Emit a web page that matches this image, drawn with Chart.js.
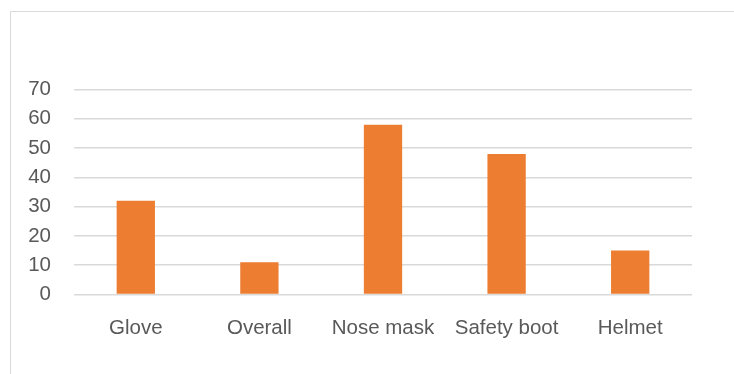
<!DOCTYPE html>
<html>
<head>
<meta charset="utf-8">
<script src="https://cdn.jsdelivr.net/npm/chart.js@4/dist/chart.umd.min.js"></script>
<style>
    html, body { margin: 0; padding: 0; background: #fff; }
    #wrap { width: 734px; height: 374px; position: relative; }
</style>
</head>
<body>
<div id="wrap"><canvas id="ppeChart" width="734" height="374"></canvas></div>
<script>
// Protective equipment counts
const categories = ['Glove', 'Overall', 'Nose mask', 'Safety boot', 'Helmet'];
const usage = [32, 11, 58, 48, 15];
const yTicks = [0, 10, 20, 30, 40, 50, 60, 70];

const barColor = '#ed7d31';
const gridColor = '#d9d9d9';
const textColor = '#595959';

// Light frame around the chart, open at the right and bottom
const framePlugin = {
    id: 'frame',
    beforeDraw(chart) {
        const ctx = chart.ctx;
        ctx.save();
        ctx.strokeStyle = '#d9d9d9';
        ctx.lineWidth = 1;
        ctx.beginPath();
        ctx.moveTo(10.5, 380);
        ctx.lineTo(10.5, 11.5);
        ctx.lineTo(740, 11.5);
        ctx.stroke();
        ctx.restore();
    }
};

new Chart(document.getElementById('ppeChart').getContext('2d'), {
    type: 'bar',
    data: {
        labels: categories,
        datasets: [{
            data: usage,
            backgroundColor: barColor,
            borderWidth: 0,
            categoryPercentage: 1,
            barPercentage: 0.31
        }]
    },
    options: {
        responsive: false,
        animation: false,
        layout: { padding: { top: 89.5, right: 42, left: 0, bottom: 0 } },
        plugins: {
            legend: { display: false },
            tooltip: { enabled: false }
        },
        scales: {
            x: {
                grid: { display: false, drawTicks: false },
                border: { display: false },
                ticks: {
                    color: textColor,
                    padding: 22,
                    maxRotation: 0,
                    autoSkip: false,
                    font: { family: 'Liberation Sans', size: 20.5 }
                },
                afterFit(scale) { scale.height = 79.5; }
            },
            y: {
                min: 0,
                max: 70,
                afterBuildTicks(scale) {
                    scale.ticks = yTicks.map(v => ({ value: v }));
                },
                grid: { color: gridColor, lineWidth: 1.5, drawTicks: false },
                border: { display: false },
                ticks: {
                    color: textColor,
                    padding: 23,
                    font: { family: 'Liberation Sans', size: 20.5 }
                },
                afterFit(scale) { scale.width = 74; }
            }
        }
    },
    plugins: [framePlugin]
});
</script>
</body>
</html>
